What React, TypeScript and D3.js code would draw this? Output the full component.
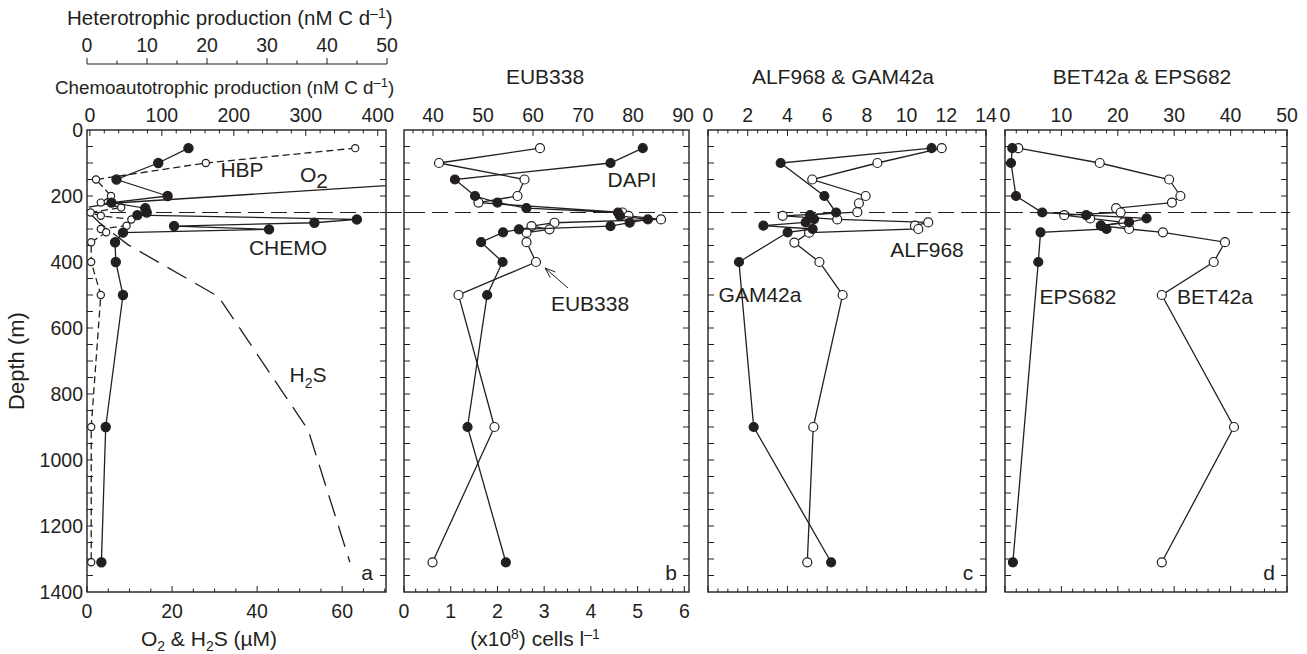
import React from "react";
import * as d3 from "d3";

// ---- data (depth in m) ----
// panel a
const chemoDepth = [55, 100, 150, 200, 220, 237, 250, 258, 271, 281, 291, 301, 311, 340, 400, 500, 900, 1310];
const chemoValue = [137, 95, 37, 108, 30, 77, 79, 66, 371, 312, 117, 249, 46, 35, 36, 46, 22, 16];
const hbpDepth = [55, 100, 150, 200, 220, 235, 250, 260, 271, 290, 300, 310, 340, 400, 500, 900, 1310];
const hbpValue = [44.7, 19.8, 1.5, 4.0, 2.3, 5.7, 0.6, 2.3, 7.4, 6.6, 2.3, 3.2, 0.7, 0.7, 2.3, 0.7, 0.7];
const o2Depth = [150, 222, 234];
const o2Value = [93, 5.8, 0.4];
const h2sDepth = [250, 283, 348, 505, 909, 1310];
const h2sValue = [0.5, 3.1, 9.7, 30.9, 52.0, 61.8];
// panel b
const dapiDepth = [55, 100, 150, 200, 220, 237, 250, 260, 271, 281, 291, 301, 310, 340, 400, 500, 900, 1310];
const dapiValue = [5.11, 4.42, 1.09, 1.52, 2.0, 2.62, 4.58, 4.62, 5.22, 4.83, 4.42, 2.46, 2.12, 1.65, 2.11, 1.78, 1.36, 2.18];
const eubDepth = [55, 100, 150, 200, 220, 250, 260, 271, 281, 291, 301, 311, 340, 400, 500, 900, 1310];
const eubValue = [61.4, 41.2, 58.3, 56.9, 49.1, 77.9, 79.1, 85.6, 64.3, 59.7, 63.3, 58.7, 58.7, 60.6, 45.1, 52.3, 39.9];
// panel c
const gamDepth = [55, 100, 200, 250, 258, 270, 280, 290, 300, 310, 400, 900, 1310];
const gamValue = [11.26, 3.66, 5.86, 6.45, 5.14, 5.34, 4.92, 2.79, 5.27, 4.01, 1.56, 2.3, 6.2];
const alfDepth = [55, 100, 150, 200, 222, 249, 260, 271, 280, 290, 300, 311, 341, 400, 500, 900, 1310];
const alfValue = [11.77, 8.53, 5.25, 7.94, 7.6, 7.52, 3.76, 6.51, 11.09, 10.42, 10.59, 5.09, 4.35, 5.61, 6.78, 5.3, 5.0];
// panel d
const epsDepth = [55, 100, 200, 250, 258, 268, 280, 290, 300, 310, 400, 1310];
const epsValue = [1.3, 1.06, 1.95, 6.6, 14.4, 25.1, 22, 17, 18, 6.3, 5.9, 1.4];
const betDepth = [55, 100, 150, 200, 220, 237, 250, 258, 268, 280, 290, 300, 310, 340, 400, 500, 900, 1310];
const betValue = [2.36, 16.8, 29.1, 31.1, 29.6, 19.7, 20.5, 10.5, 15.1, 21, 17, 22, 28, 39, 37, 27.8, 40.6, 27.8];

const depthTicks = [0, 200, 400, 600, 800, 1000, 1200, 1400];
const heteroTicks = [0, 10, 20, 30, 40, 50];
const chemoTicks = [0, 100, 200, 300, 400];
const eubTicks = [40, 50, 60, 70, 80, 90];
const cTicks = [0, 2, 4, 6, 8, 10, 12, 14];
const dTicks = [0, 10, 20, 30, 40, 50];
const gasTicks = [0, 20, 40, 60];
const cellTicks = [0, 1, 2, 3, 4, 5, 6];

// ---- layout ----
const TOP = 130;
const BOTTOM = 592;
const FONT = "'Liberation Sans', Arial, Helvetica, sans-serif";
const INK = "#231f20";

const y = d3.scaleLinear().domain([0, 1400]).range([TOP, BOTTOM]);

const pa = { x0: 87, x1: 386 };
const pb = { x0: 404, x1: 689 };
const pc = { x0: 708, x1: 986 };
const pd = { x0: 1005, x1: 1287 };

const xGas = d3.scaleLinear().domain([0, 70.3]).range([pa.x0, pa.x1]);
const xChemo = d3.scaleLinear().domain([-4, 411.5]).range([pa.x0, pa.x1]);
const xHetero = d3.scaleLinear().domain([0, 50]).range([87, 387]);
const xCells = d3.scaleLinear().domain([0, 6.1]).range([pb.x0, pb.x1]);
const xEub = d3.scaleLinear().domain([34.2, 91.2]).range([pb.x0, pb.x1]);
const xC = d3.scaleLinear().domain([0, 14]).range([pc.x0, pc.x1]);
const xD = d3.scaleLinear().domain([0, 50]).range([pd.x0, pd.x1]);

type Scale = d3.ScaleLinear<number, number>;

const Series = ({ x, depths, values, filled, dash, r, markers = true, clip }: {
  x: Scale; depths: number[]; values: number[]; filled?: boolean; dash?: string; r?: number; markers?: boolean; clip?: string;
}) => {
  const pts: [number, number][] = depths.map((d, i) => [x(values[i]), y(d)]);
  const line = d3.line()(pts) || "";
  return (
    <g clipPath={clip}>
      <path d={line} fill="none" stroke={INK} strokeWidth={1.3} strokeDasharray={dash} />
      {markers &&
        pts.map((p, i) => (
          <circle key={i} cx={p[0]} cy={p[1]} r={r ?? 4.5}
            fill={filled ? INK : "#fff"} stroke={INK} strokeWidth={1.2} />
        ))}
    </g>
  );
};

// ticks along a horizontal edge, pointing inward (dir=+1 down, -1 up)
const HTicks = ({ x, from, to, step, major, yy, dir }: {
  x: Scale; from: number; to: number; step: number; major: number; yy: number; dir: number;
}) => {
  const vals = d3.range(from, to + step / 2, step);
  return (
    <g stroke={INK} strokeWidth={1}>
      {vals.map((v, i) => {
        const isMajor = Math.abs(v / major - Math.round(v / major)) < 1e-6;
        const len = isMajor ? 6 : 3.5;
        return <line key={i} x1={x(v)} x2={x(v)} y1={yy} y2={yy + dir * len} />;
      })}
    </g>
  );
};

const Frame = ({ p }: { p: { x0: number; x1: number } }) => {
  const dt = d3.range(50, 1400, 50);
  return (
    <g>
      <rect x={p.x0} y={TOP} width={p.x1 - p.x0} height={BOTTOM - TOP} fill="none" stroke={INK} strokeWidth={1.4} />
      {dt.map((d) => (
        <g key={d} stroke={INK} strokeWidth={1}>
          <line x1={p.x0} x2={p.x0 + 6} y1={y(d)} y2={y(d)} />
          <line x1={p.x1} x2={p.x1 - 6} y1={y(d)} y2={y(d)} />
        </g>
      ))}
    </g>
  );
};

const TopLabels = ({ x, ticks }: { x: Scale; ticks: number[] }) => (
  <g fontSize={19.5} textAnchor="middle" fill={INK}>
    {ticks.map((t) => (
      <text key={t} x={x(t)} y={122}>{t}</text>
    ))}
  </g>
);

const BottomLabels = ({ x, ticks }: { x: Scale; ticks: number[] }) => (
  <g fontSize={19.5} textAnchor="middle" fill={INK}>
    {ticks.map((t) => (
      <text key={t} x={x(t)} y={618}>{t}</text>
    ))}
  </g>
);

const App = () => {
  const arrowTip: [number, number] = [545, 268];
  const arrowTail: [number, number] = [568, 288];
  const ang = Math.atan2(arrowTail[1] - arrowTip[1], arrowTail[0] - arrowTip[0]);
  const head = [-0.35, 0.35].map((a) => [
    arrowTip[0] + 11 * Math.cos(ang + a),
    arrowTip[1] + 11 * Math.sin(ang + a),
  ]);

  return (
    <svg width={1307} height={654} style={{ position: "absolute", left: 0, top: 0, background: "#fff" }}
      fontFamily={FONT}>
      <defs>
        <clipPath id="clipA">
          <rect x={pa.x0} y={TOP} width={pa.x1 - pa.x0} height={BOTTOM - TOP} />
        </clipPath>
      </defs>

      {/* heterotrophic axis */}
      <text x={67} y={25} fontSize={20.5} fill={INK}>
        Heterotrophic production (nM C d<tspan dy={-7} fontSize={14}>–1</tspan><tspan dy={7}>)</tspan>
      </text>
      <g fontSize={19.5} textAnchor="middle" fill={INK}>
        {heteroTicks.map((t) => (
          <text key={t} x={xHetero(t)} y={52}>{t}</text>
        ))}
      </g>
      <line x1={87} x2={387} y1={64} y2={64} stroke={INK} strokeWidth={1.2} />
      <HTicks x={xHetero} from={0} to={50} step={5} major={10} yy={64} dir={-1} />

      <text x={55} y={94} fontSize={18.8} fill={INK}>
        Chemoautotrophic production (nM C d<tspan dy={-7} fontSize={13}>–1</tspan><tspan dy={7}>)</tspan>
      </text>

      {/* panel titles */}
      <g fontSize={21} textAnchor="middle" fill={INK}>
        <text x={545} y={84}>EUB338</text>
        <text x={843} y={84}>ALF968 &amp; GAM42a</text>
        <text x={1142} y={84}>BET42a &amp; EPS682</text>
      </g>

      {/* top tick labels */}
      <TopLabels x={xChemo} ticks={chemoTicks} />
      <TopLabels x={xEub} ticks={eubTicks} />
      <TopLabels x={xC} ticks={cTicks} />
      <TopLabels x={xD} ticks={dTicks} />

      {/* frames */}
      {[pa, pb, pc, pd].map((p, i) => <Frame key={i} p={p} />)}
      <HTicks x={xChemo} from={0} to={400} step={20} major={100} yy={TOP} dir={1} />
      <HTicks x={xEub} from={36} to={90} step={2} major={10} yy={TOP} dir={1} />
      <HTicks x={xC} from={0} to={14} step={0.5} major={2} yy={TOP} dir={1} />
      <HTicks x={xD} from={0} to={50} step={2} major={10} yy={TOP} dir={1} />
      <HTicks x={xGas} from={0} to={70} step={5} major={20} yy={BOTTOM} dir={-1} />
      <HTicks x={xCells} from={0} to={6} step={0.25} major={1} yy={BOTTOM} dir={-1} />
      <HTicks x={xC} from={0} to={14} step={0.5} major={2} yy={BOTTOM} dir={-1} />
      <HTicks x={xD} from={0} to={50} step={2} major={10} yy={BOTTOM} dir={-1} />

      {/* depth axis */}
      <g fontSize={19.5} textAnchor="end" fill={INK}>
        {depthTicks.map((d) => (
          <text key={d} x={83} y={y(d)} dy="0.35em">{d}</text>
        ))}
      </g>
      <text transform={`translate(24,${(TOP + BOTTOM) / 2}) rotate(-90)`} textAnchor="middle" fontSize={22} fill={INK}>
        Depth (m)
      </text>

      {/* bottom labels */}
      <BottomLabels x={xGas} ticks={gasTicks} />
      <BottomLabels x={xCells} ticks={cellTicks} />
      <text x={209} y={646} textAnchor="middle" fontSize={21} fill={INK}>
        O<tspan dy={5} fontSize={14}>2</tspan><tspan dy={-5}> &amp; H</tspan><tspan dy={5} fontSize={14}>2</tspan><tspan dy={-5}>S (µM)</tspan>
      </text>
      <text x={535} y={646} textAnchor="middle" fontSize={21} fill={INK}>
        (x10<tspan dy={-7} fontSize={14}>8</tspan><tspan dy={7}>) cells l</tspan><tspan dy={-7} fontSize={14}>–1</tspan>
      </text>

      {/* dashed horizontal line */}
      <line x1={87} x2={1290} y1={y(250)} y2={y(250)} stroke={INK} strokeWidth={1.2} strokeDasharray="16,7" />

      {/* panel a */}
      <Series x={xGas} depths={o2Depth} values={o2Value} markers={false} clip="url(#clipA)" />
      <Series x={xGas} depths={h2sDepth} values={h2sValue} markers={false} dash="22,10" clip="url(#clipA)" />
      <Series x={xHetero} depths={hbpDepth} values={hbpValue} dash="7,4" r={3.6} />
      <Series x={xChemo} depths={chemoDepth} values={chemoValue} filled r={4.6} />

      {/* panel b */}
      <Series x={xEub} depths={eubDepth} values={eubValue} />
      <Series x={xCells} depths={dapiDepth} values={dapiValue} filled />

      {/* panel c */}
      <Series x={xC} depths={alfDepth} values={alfValue} />
      <Series x={xC} depths={gamDepth} values={gamValue} filled />

      {/* panel d */}
      <Series x={xD} depths={betDepth} values={betValue} />
      <Series x={xD} depths={epsDepth} values={epsValue} filled />

      {/* in-plot labels */}
      <g fontSize={21} fill={INK} textAnchor="middle">
        <text x={242} y={177}>HBP</text>
        <text x={314} y={182}>O<tspan dy={6} fontSize={21}>2</tspan></text>
        <text x={288} y={255}>CHEMO</text>
        <text x={308} y={382}>H<tspan dy={6} fontSize={14}>2</tspan><tspan dy={-6}>S</tspan></text>
        <text x={632} y={187}>DAPI</text>
        <text x={590} y={311}>EUB338</text>
        <text x={927} y={257}>ALF968</text>
        <text x={760} y={302}>GAM42a</text>
        <text x={1078} y={304}>EPS682</text>
        <text x={1215} y={304}>BET42a</text>
        <text x={367} y={580}>a</text>
        <text x={671} y={580}>b</text>
        <text x={968} y={580}>c</text>
        <text x={1269} y={580}>d</text>
      </g>

      {/* arrow to EUB338 */}
      <g stroke={INK} strokeWidth={1}>
        <line x1={arrowTail[0]} y1={arrowTail[1]} x2={arrowTip[0]} y2={arrowTip[1]} />
        {head.map((h, i) => (
          <line key={i} x1={arrowTip[0]} y1={arrowTip[1]} x2={h[0]} y2={h[1]} />
        ))}
      </g>
    </svg>
  );
};

export default App;
